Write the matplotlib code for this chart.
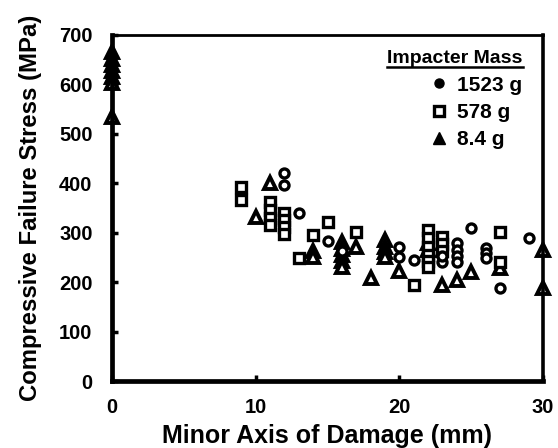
import matplotlib
matplotlib.use('Agg')
import matplotlib.pyplot as plt
from matplotlib.lines import Line2D

plt.rcParams['font.family'] = ['Liberation Sans', 'DejaVu Sans']
plt.rcParams['font.weight'] = 'bold'

# 1523 g impacter (open circles)
x_1523 = [12, 12, 13, 15, 16, 20, 20, 21, 23, 23, 24, 24, 24, 24, 25, 26, 26, 26, 27, 29]
y_1523 = [420, 396, 340, 283, 262, 272, 250, 245, 240, 252, 280, 265, 252, 240, 309, 270, 258, 248, 188, 289]

# 578 g impacter (open squares)
x_578 = [9, 9, 11, 11, 11, 11, 12, 12, 12, 12, 13, 14, 15, 17, 21,
         22, 22, 22, 22, 22, 22, 23, 23, 23, 27, 27]
y_578 = [393, 367, 362, 345, 330, 315, 340, 325, 312, 298, 248, 295, 322, 302, 194,
         305, 290, 272, 255, 242, 230, 292, 278, 262, 301, 240]

# 8.4 g impacter (triangles)
x_84 = [0, 0, 0, 0, 0, 0, 0, 10, 11, 14, 14, 16, 16, 16, 16, 16, 17, 18,
        19, 19, 19, 19, 20, 22, 22, 23, 24, 25, 27, 30, 30]
y_84 = [665, 652, 640, 628, 615, 603, 535, 332, 400, 262, 250, 282, 268, 255, 242, 230, 272, 208,
        286, 272, 260, 250, 222, 280, 265, 194, 205, 221, 228, 265, 188]

legend_title = 'Impacter Mass'
legend_labels = ['1523 g', '578 g', '8.4 g']

fig = plt.figure(figsize=(5.58, 4.48), dpi=100)
ax = fig.add_axes([112 / 558, 1 - 381 / 448, 431 / 558, 346 / 448])

ax.plot(x_84, y_84, linestyle='none', marker='^', markersize=8,
        markerfacecolor='white', markeredgecolor='black', markeredgewidth=2.8, clip_on=False)
ax.plot(x_578, y_578, linestyle='none', marker='s', markersize=7.5,
        markerfacecolor='white', markeredgecolor='black', markeredgewidth=2.4, clip_on=False)
ax.plot(x_1523, y_1523, linestyle='none', marker='o', markersize=6.5,
        markerfacecolor='white', markeredgecolor='black', markeredgewidth=2.4, clip_on=False)

ax.set_xlim(0, 30)
ax.set_ylim(0, 700)
ax.set_xticks([0, 10, 20, 30])
ax.set_yticks(range(0, 701, 100))
ax.tick_params(direction='in', length=4, width=2.5, labelsize=14.5)
ax.tick_params(axis='y', pad=14)
ax.tick_params(axis='x', pad=12)
for lab in ax.get_xticklabels() + ax.get_yticklabels():
    lab.set_fontweight('bold')

ax.spines['left'].set_linewidth(3.4)
ax.spines['bottom'].set_linewidth(3.4)
ax.spines['right'].set_linewidth(2.6)
ax.spines['top'].set_linewidth(2)

ax.set_xlabel('Minor Axis of Damage (mm)', fontsize=18, fontweight='bold', labelpad=5)
ax.set_ylabel('Compressive Failure Stress (MPa)', fontsize=17.2, fontweight='bold', labelpad=12)

handles = [
    Line2D([], [], linestyle='none', marker='o', markersize=6.5, color='black'),
    Line2D([], [], linestyle='none', marker='s', markersize=7.5, markerfacecolor='white',
           markeredgecolor='black', markeredgewidth=2.4),
    Line2D([], [], linestyle='none', marker='^', markersize=9, color='black'),
]
leg = ax.legend(handles, legend_labels, title=legend_title,
                loc='upper right', bbox_to_anchor=(533 / 558, 1 - 40 / 448),
                bbox_transform=fig.transFigure, frameon=False, fontsize=15,
                handlelength=0.8, handletextpad=0.5, labelspacing=0.4,
                alignment='right', borderpad=0)
leg.get_title().set_fontsize(14)
leg.get_title().set_fontweight('bold')
for t in leg.get_texts():
    t.set_fontweight('bold')

# underline the legend title
fig.canvas.draw()
bb = leg.get_title().get_window_extent().transformed(fig.transFigure.inverted())
fig.add_artist(Line2D([bb.x0, bb.x1], [bb.y0 + 0.002, bb.y0 + 0.002],
                      transform=fig.transFigure, color='black', linewidth=1.8))

fig.savefig('out.png', dpi=100)
